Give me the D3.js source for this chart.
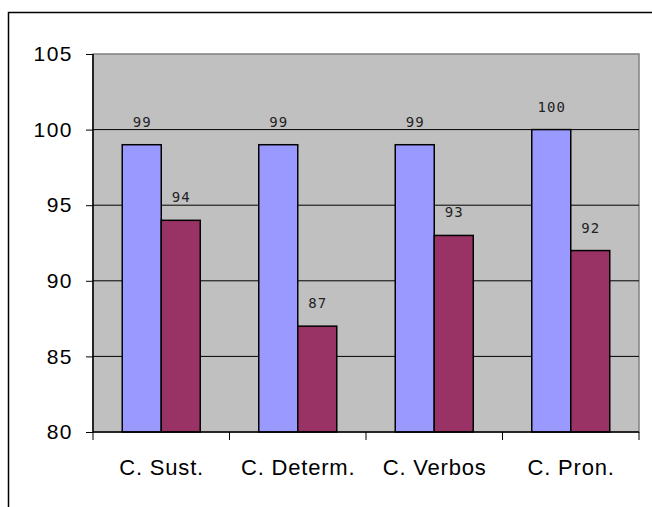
<!DOCTYPE html>
<html>
<head>
<meta charset="utf-8">
<script src="https://cdn.jsdelivr.net/npm/d3@7"></script>
<style>
  body { margin: 0; background: #fff; }
  svg { display: block; }
</style>
</head>
<body>
<svg width="652" height="507"></svg>
<script>
// data
var categories = ["C. Sust.", "C. Determ.", "C. Verbos", "C. Pron."];
var seriesA = [99, 99, 99, 100];
var seriesB = [94, 87, 93, 92];
var yTicks = [80, 85, 90, 95, 100, 105];

var colors = ["#9999FF", "#993366"];

var svg = d3.select("svg"),
	plotL = 93,
	plotR = 639,
	plotT = 54,
	plotB = 432;

// outer chart border (runs off the right and bottom of the picture)
svg.append("rect")
	.attr("x", 8.5).attr("y", 12.5)
	.attr("width", 700).attr("height", 600)
	.attr("fill", "#fff")
	.attr("stroke", "#000")
	.attr("stroke-width", 1.5);

var x = d3.scaleBand().domain(categories).range([plotL, plotR]).paddingInner(0).paddingOuter(0);
var y = d3.scaleLinear().domain([80, 105]).range([plotB, plotT]);
var barW = x.bandwidth() / 3.5;

// plot area
svg.append("rect")
	.attr("x", plotL).attr("y", plotT)
	.attr("width", plotR - plotL).attr("height", plotB - plotT)
	.attr("fill", "#C0C0C0")
	.attr("stroke", "#808080")
	.attr("stroke-width", 1.5);

// gridlines
svg.append("g")
	.selectAll("line")
	.data(yTicks.filter(d => d > 80 && d < 105))
	.enter()
	.append("line")
	.attr("x1", plotL).attr("x2", plotR)
	.attr("y1", d => y(d)).attr("y2", d => y(d))
	.attr("stroke", "#000")
	.attr("stroke-width", 1);

// bars
var series = [seriesA, seriesB];
series.forEach(function (vals, s) {
	svg.append("g")
		.selectAll("rect")
		.data(vals)
		.enter()
		.append("rect")
		.attr("x", (d, i) => x(categories[i]) + x.bandwidth() / 2 - barW + s * barW)
		.attr("y", d => y(d))
		.attr("width", barW)
		.attr("height", d => y(80) - y(d))
		.attr("fill", colors[s])
		.attr("stroke", "#000")
		.attr("stroke-width", 1.5);

	svg.append("g")
		.selectAll("text")
		.data(vals)
		.enter()
		.append("text")
		.attr("x", (d, i) => x(categories[i]) + x.bandwidth() / 2 - barW / 2 + s * barW + 0.5)
		.attr("y", d => y(d) - 18)
		.attr("text-anchor", "middle")
		.style("font-family", "DejaVu Sans Mono, monospace")
		.style("font-size", "14px")
		.style("letter-spacing", "1px")
		.attr("fill", "#222")
		.text(d => d);
});

// y axis
var yAxis = d3.axisLeft(y).tickValues(yTicks).tickSize(7).tickPadding(13);
var ga = svg.append("g").attr("transform", "translate(" + plotL + ",0)").call(yAxis);
ga.select(".domain").attr("stroke", "#000").attr("stroke-width", 1.5).attr("d", "M0," + plotT + "V" + plotB);
ga.selectAll("text")
	.style("font-family", "Liberation Sans, Arial, sans-serif")
	.style("font-size", "21px")
	.style("letter-spacing", "1.5px")
	.attr("fill", "#000");

// x axis
var xAxis = d3.axisBottom(x).tickSize(0).tickPadding(27);
var gx = svg.append("g").attr("transform", "translate(0," + plotB + ")").call(xAxis);
gx.select(".domain").attr("stroke", "#000").attr("stroke-width", 1.5).attr("d", "M" + plotL + ",0H" + plotR);
gx.selectAll("text")
	.style("font-family", "Liberation Sans, Arial, sans-serif")
	.style("font-size", "22px")
	.style("letter-spacing", "0.8px")
	.attr("dx", "0.4")
	.attr("fill", "#000");

// category separators
svg.append("g")
	.selectAll("line")
	.data(d3.range(categories.length + 1))
	.enter()
	.append("line")
	.attr("x1", i => plotL + i * x.bandwidth())
	.attr("x2", i => plotL + i * x.bandwidth())
	.attr("y1", plotB).attr("y2", plotB + 8)
	.attr("stroke", "#000")
	.attr("stroke-width", 1);
</script>
</body>
</html>
